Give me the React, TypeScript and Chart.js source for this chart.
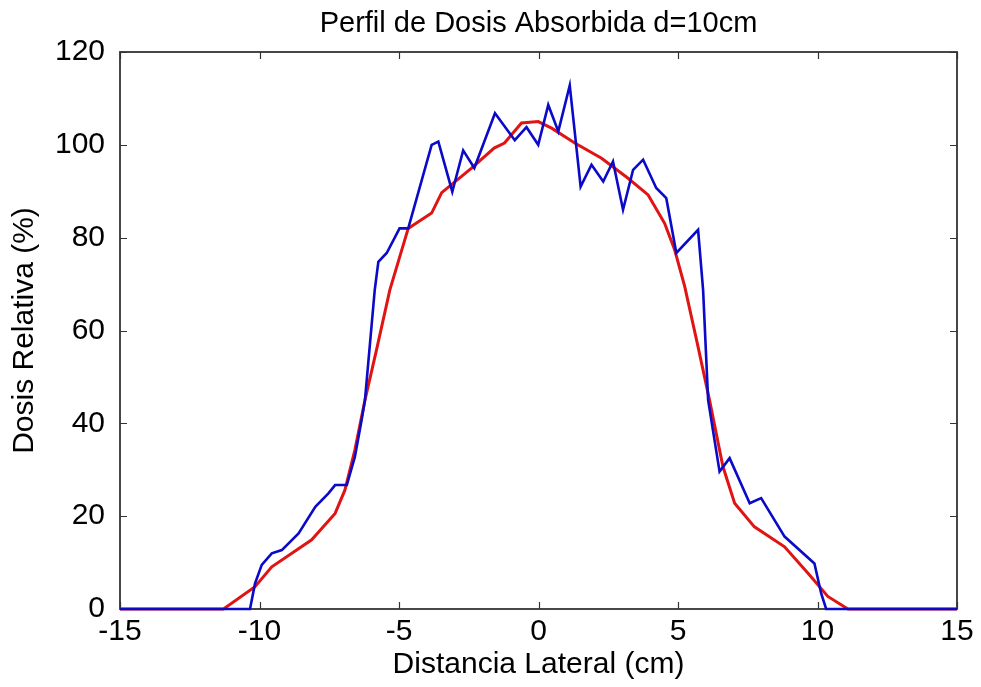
import React, { useEffect, useRef } from "react";
import { Chart, registerables } from "chart.js";

Chart.register(...registerables);

const TITLE = "Perfil de Dosis Absorbida d=10cm";
const X_LABEL = "Distancia Lateral (cm)";
const Y_LABEL = "Dosis Relativa (%)";

const X_TICKS = [-15, -10, -5, 0, 5, 10, 15];
const Y_TICKS = [0, 20, 40, 60, 80, 100, 120];

// Measured profile (blue)
const measuredX = [
  -15, -10.34, -10.16, -9.92, -9.56, -9.2, -8.6, -8.0, -7.53, -7.29, -6.87, -6.58, -6.34, -6.22,
  -5.87, -5.74, -5.44, -4.98, -4.67, -3.83, -3.59, -3.09, -2.7, -2.3, -1.56, -0.85, -0.43, -0.01,
  0.35, 0.71, 1.12, 1.51, 1.9, 2.32, 2.67, 3.03, 3.39, 3.75, 4.22, 4.58, 4.94, 5.72, 5.9, 6.08,
  6.49, 6.85, 7.57, 7.98, 8.82, 9.89, 10.13, 10.31, 15,
];
const measuredY = [
  0, 0, 5.5, 9.5, 12, 12.7, 16.3, 22, 24.9, 26.7, 26.7, 32.8, 40.7, 45,
  68.7, 74.8, 76.7, 82, 82, 100, 100.7, 89.9, 98.8, 95, 106.8, 101, 103.8, 100,
  108.6, 102.9, 112.8, 91, 95.7, 92.1, 96.4, 86, 94.6, 96.8, 90.7, 88.5, 76.7, 81.7, 68.7, 45,
  29.6, 32.5, 22.8, 23.9, 15.6, 9.8, 3.4, 0, 0,
];

// Calculated profile (red)
const calcX = [
  -15, -11.29, -10.16, -9.56, -8.84, -8.13, -7.29, -6.94, -6.58, -6.22, -5.8, -5.33, -4.67, -3.83,
  -3.47, -2.4, -1.59, -1.22, -0.61, -0.01, 0.47, 1.3, 2.26, 3.21, 3.93, 4.52, 4.88, 5.24, 5.7,
  6.13, 6.61, 7.03, 7.74, 8.82, 9.66, 10.37, 11.09, 15,
];
const calcY = [
  0, 0, 4.8, 9.1, 12, 14.9, 20.6, 25.6, 34.3, 45, 56, 68.7, 82, 85.3,
  89.7, 95, 99.3, 100.4, 104.7, 105, 103.6, 100.4, 97.1, 92.8, 89.2, 83.1, 77.4, 69.5, 57,
  45, 30.7, 22.8, 17.7, 13.4, 7.7, 2.7, 0, 0,
];

const FONT = "'Liberation Sans', Arial, sans-serif";

const framePlugin = {
  id: "matlabFrame",
  beforeDatasetsDraw(chart: any) {
    const { ctx, chartArea } = chart;
    const { left, right, top, bottom } = chartArea;
    const xs = chart.scales.x;
    const ys = chart.scales.y;
    ctx.save();
    ctx.strokeStyle = "#333";
    ctx.lineWidth = 1.8;
    ctx.strokeRect(left, top, right - left, bottom - top);
    ctx.lineWidth = 1.2;
    const tl = 7;
    ctx.beginPath();
    X_TICKS.forEach((v) => {
      const px = Math.round(xs.getPixelForValue(v)) + 0.5;
      ctx.moveTo(px, bottom);
      ctx.lineTo(px, bottom - tl);
      ctx.moveTo(px, top);
      ctx.lineTo(px, top + tl);
    });
    Y_TICKS.forEach((v) => {
      const py = Math.round(ys.getPixelForValue(v)) + 0.5;
      ctx.moveTo(left, py);
      ctx.lineTo(left + tl, py);
      ctx.moveTo(right, py);
      ctx.lineTo(right - tl, py);
    });
    ctx.stroke();
    ctx.restore();
  },
  afterDraw(chart: any) {
    const { ctx, chartArea } = chart;
    ctx.save();
    ctx.fillStyle = "#000";
    ctx.font = `29px ${FONT}`;
    ctx.textAlign = "center";
    ctx.textBaseline = "alphabetic";
    ctx.fillText(TITLE, (chartArea.left + chartArea.right) / 2, 32);
    ctx.restore();
  },
};

export default function App() {
  const ref = useRef<HTMLCanvasElement | null>(null);
  useEffect(() => {
    if (!ref.current) return;
    const chart = new Chart(ref.current, {
      type: "line",
      data: {
        datasets: [
          {
            label: "Medido",
            data: measuredX.map((x, i) => ({ x, y: measuredY[i] })),
            borderColor: "rgb(10,10,200)",
            borderWidth: 2.6,
            pointRadius: 0,
            tension: 0,
            clip: 5,
          },
          {
            label: "Calculado",
            data: calcX.map((x, i) => ({ x, y: calcY[i] })),
            borderColor: "rgb(225,20,20)",
            borderWidth: 3,
            pointRadius: 0,
            tension: 0,
            clip: 5,
          },
        ],
      },
      options: {
        animation: false,
        responsive: false,
        layout: { padding: { top: 52, right: 24, left: 0, bottom: 0 } },
        plugins: { legend: { display: false }, tooltip: { enabled: false }, title: { display: false } },
        scales: {
          x: {
            type: "linear",
            min: -15,
            max: 15,
            afterBuildTicks: (s: any) => {
              s.ticks = X_TICKS.map((v) => ({ value: v }));
            },
            afterFit: (s: any) => {
              s.height = 78;
            },
            grid: { display: false, drawTicks: false },
            border: { display: false },
            ticks: { color: "#000", font: { family: FONT, size: 30 }, padding: 5, maxRotation: 0 },
            title: {
              display: true,
              text: X_LABEL,
              color: "#000",
              font: { family: FONT, size: 30 },
              padding: { top: 0, bottom: 4 },
            },
          },
          y: {
            type: "linear",
            min: 0,
            max: 120,
            afterBuildTicks: (s: any) => {
              s.ticks = Y_TICKS.map((v) => ({ value: v }));
            },
            afterFit: (s: any) => {
              s.width = 120;
            },
            grid: { display: false, drawTicks: false },
            border: { display: false },
            ticks: { color: "#000", font: { family: FONT, size: 30 }, padding: 15 },
            title: {
              display: true,
              text: Y_LABEL,
              color: "#000",
              font: { family: FONT, size: 30 },
              padding: { top: 7, bottom: 0 },
            },
          },
        },
      },
      plugins: [framePlugin],
    });
    return () => chart.destroy();
  }, []);
  return (
    <div style={{ position: "absolute", left: 0, top: 0, width: 981, height: 687, background: "#fff" }}>
      <canvas ref={ref} width={981} height={687} style={{ width: 981, height: 687 }} />
    </div>
  );
}
